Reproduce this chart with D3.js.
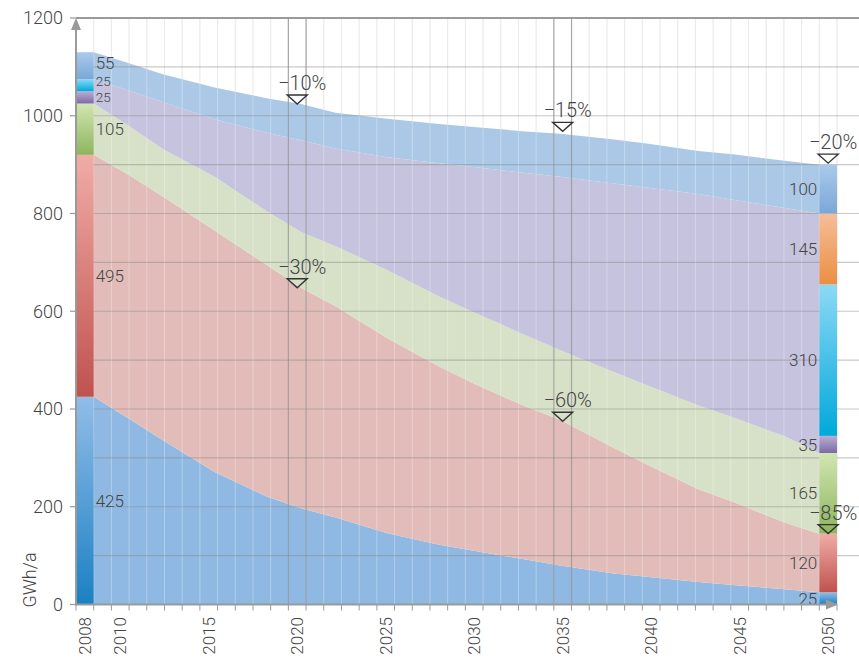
<!DOCTYPE html>
<html>
<head>
<meta charset="utf-8">
<script src="https://cdn.jsdelivr.net/npm/d3@7"></script>
<style>
  body { margin: 0; background: #fff; }
  text { font-family: Roboto, "Open Sans", sans-serif; font-weight: 300; fill: #444; }
</style>
</head>
<body>
<script>
// Jahre der Stützpunkte der Flächen
const years = [2008, 2010, 2012, 2015, 2018, 2020, 2022, 2025, 2028, 2030, 2033, 2035, 2038, 2040, 2043, 2045, 2048, 2050];
// Werte je Schicht (GWh/a), von unten nach oben
const basisBlau = [425, 381, 336, 271, 221, 197, 178, 146, 122, 110, 92, 80, 64, 57, 46, 40, 31, 25];
const rot       = [495, 499, 499, 494, 474, 451, 432, 399, 365, 342, 313, 298, 258, 230, 190, 170, 137, 120];
const gruen     = [105, 100, 97, 110, 110, 114, 123, 139, 143, 146, 146, 142, 155, 162, 171, 173, 176, 165];
const violett   = [50, 72, 96, 118, 160, 188, 200, 231, 273, 297, 332, 355, 385, 404, 433, 445, 467, 490];
const obenBlau  = [55, 56, 57, 65, 71, 74, 73, 79, 80, 82, 85, 88, 90, 90, 88, 93, 97, 100];

// Balken 2008 und 2050 (von unten nach oben)
const bar2008 = [425, 495, 105, 25, 25, 55];
const bar2008Farben = ["blau", "rot", "gruen", "violett", "cyan", "oben"];
const bar2050 = [25, 120, 165, 35, 310, 145, 100];
const bar2050Farben = ["blau", "rot", "gruen", "violett", "cyan", "orange", "oben"];

// Reduktionsmarken
const markerYears  = [2020, 2020, 2035, 2035, 2050, 2050];
const markerLabels = ["−10%", "−30%", "−15%", "−60%", "−20%", "−85%"];
const markerValues = [1024, 648, 968, 375, 903, 145];

const yTicks = [0, 200, 400, 600, 800, 1000, 1200];
const xLabelYears = [2008, 2010, 2015, 2020, 2025, 2030, 2035, 2040, 2045, 2050];

// Farben
const flaechenFarben = ["#8fb9e3", "#e2bcb9", "#d6e1c7", "#c6c3de", "#abc9e7"];
const verlauf = {
  blau:    ["#92bde8", "#1b80c3"],
  rot:     ["#f1aca6", "#c0524e"],
  gruen:   ["#d2e5b2", "#8cb55d"],
  violett: ["#b9aed6", "#7c6aa4"],
  cyan:    ["#8dd9f6", "#00a8db"],
  orange:  ["#f6be98", "#ec8e42"],
  oben:    ["#aacaea", "#7ba7d8"]
};

const W = 859, H = 661;
const plotL = 76, plotR = 837, plotT = 18, plotB = 604.5;

const svg = d3.select("body").append("svg").attr("width", W).attr("height", H);

const allYears = d3.range(2008, 2051);
const xb = d3.scaleBand().domain(allYears).range([plotL, plotR]).padding(0);
const bw = xb.bandwidth();
const xa = d3.scaleLinear().domain([2008, 2050]).range([xb(2008) + bw, xb(2050)]);
const y = d3.scaleLinear().domain([0, 1200]).range([plotB, plotT]);

// Gradienten
const defs = svg.append("defs");
Object.entries(verlauf).forEach(([k, c]) => {
  const g = defs.append("linearGradient").attr("id", "g-" + k)
    .attr("x1", 0).attr("y1", 0).attr("x2", 0).attr("y2", 1);
  g.append("stop").attr("offset", "0%").attr("stop-color", c[0]);
  g.append("stop").attr("offset", "100%").attr("stop-color", c[1]);
});

// Hintergrund-Raster (vertikal)
const boundaries = d3.range(0, allYears.length + 1).map(i => plotL + i * bw);
svg.append("g").selectAll("line").data(boundaries.slice(1)).join("line")
  .attr("x1", d => d).attr("x2", d => d).attr("y1", plotT).attr("y2", plotB)
  .attr("stroke", "#e2e2e2").attr("stroke-width", 1);

// Flächen
const rows = years.map((yr, i) => ({
  year: yr, basis: basisBlau[i], rot: rot[i], gruen: gruen[i], violett: violett[i], oben: obenBlau[i]
}));
const keys = ["basis", "rot", "gruen", "violett", "oben"];
const stacked = d3.stack().keys(keys)(rows);
const area = d3.area()
  .x(d => xa(d.data.year))
  .y0(d => y(d[0]))
  .y1(d => y(d[1]));
svg.append("g").selectAll("path").data(stacked).join("path")
  .attr("d", area)
  .attr("fill", (d, i) => flaechenFarben[i]);

// Raster über den Flächen
svg.append("g").selectAll("line").data(boundaries.slice(1, -1)).join("line")
  .attr("x1", d => d).attr("x2", d => d).attr("y1", plotT).attr("y2", plotB)
  .attr("stroke", "#fff").attr("stroke-opacity", 0.3).attr("stroke-width", 1);

svg.append("g").selectAll("line").data(d3.range(100, 1200, 100)).join("line")
  .attr("x1", plotL).attr("x2", W)
  .attr("y1", d => y(d)).attr("y2", d => y(d))
  .attr("stroke", "#888").attr("stroke-opacity", 0.45).attr("stroke-width", 1.2);

// dunkle Linien bei 2020 und 2035
[2020, 2035].forEach(yr => {
  [xb(yr), xb(yr) + bw].forEach(xx => {
    svg.append("line").attr("x1", xx).attr("x2", xx).attr("y1", plotT).attr("y2", plotB)
      .attr("stroke", "#8a8a8a").attr("stroke-opacity", 0.7).attr("stroke-width", 1.2);
  });
});

// Balken
function drawBar(year, values, colors, labelSide) {
  let cum = 0;
  const segs = values.map((v, i) => {
    const s = { v: v, y0: cum, y1: cum + v, c: colors[i] };
    cum += v;
    s.ly = y((s.y0 + s.y1) / 2);
    return s;
  });
  // kleine Schrift nur, wenn zwei schmale Segmente aufeinander folgen
  segs.forEach((s, i) => {
    const small = v => v !== undefined && v < 30;
    const tight = small(s.v) && (small(values[i - 1]) || small(values[i + 1]));
    s.fs = tight ? 13.5 : 17;
  });
  // Beschriftungen nach oben schieben, wenn sie sich berühren
  for (let i = 1; i < segs.length; i++) {
    const need = (segs[i].fs + segs[i - 1].fs) / 2 * 1.17 + 0.5;
    if (segs[i - 1].ly - segs[i].ly < need) segs[i].ly = segs[i - 1].ly - need;
  }
  const g = svg.append("g");
  g.selectAll("rect").data(segs).join("rect")
    .attr("x", xb(year)).attr("width", bw)
    .attr("y", d => y(d.y1)).attr("height", d => y(d.y0) - y(d.y1))
    .attr("fill", d => "url(#g-" + d.c + ")");
  g.selectAll("text").data(segs).join("text")
    .attr("x", labelSide === "right" ? xb(year) + bw + 2 : xb(year) - 2)
    .attr("y", d => d.ly)
    .attr("dy", "0.36em")
    .attr("text-anchor", labelSide === "right" ? "start" : "end")
    .style("font-size", d => d.fs + "px")
    .text(d => d.v);
}
drawBar(2008, bar2008, bar2008Farben, "right");
drawBar(2050, bar2050, bar2050Farben, "left");

// Achsen
svg.append("line").attr("x1", plotL).attr("x2", W).attr("y1", plotT).attr("y2", plotT)
  .attr("stroke", "#9a9a9a").attr("stroke-width", 2);
svg.append("line").attr("x1", plotL).attr("x2", plotL).attr("y1", plotT + 6).attr("y2", plotB + 1)
  .attr("stroke", "#9a9a9a").attr("stroke-width", 2);
svg.append("path").attr("d", `M${plotL - 5},${plotT + 12}L${plotL},${plotT}L${plotL + 5},${plotT + 12}Z`).attr("fill", "#9a9a9a");
svg.append("line").attr("x1", plotL).attr("x2", plotR).attr("y1", plotB).attr("y2", plotB)
  .attr("stroke", "#9a9a9a").attr("stroke-width", 2);
svg.append("path").attr("d", `M${plotR - 11},${plotB - 5}L${plotR + 1},${plotB}L${plotR - 11},${plotB + 5}Z`).attr("fill", "#9a9a9a");

// Ticks
svg.append("g").selectAll("line").data(boundaries).join("line")
  .attr("x1", d => d).attr("x2", d => d).attr("y1", plotB).attr("y2", plotB + 6)
  .attr("stroke", "#9a9a9a").attr("stroke-width", 1);
svg.append("g").selectAll("line").data(yTicks).join("line")
  .attr("x1", plotL - 6).attr("x2", plotL).attr("y1", d => y(d)).attr("y2", d => y(d))
  .attr("stroke", "#9a9a9a").attr("stroke-width", 1.2);

svg.append("g").selectAll("text").data(yTicks).join("text")
  .attr("x", 63).attr("y", d => y(d)).attr("dy", "0.36em")
  .attr("text-anchor", "end").style("font-size", "18px").text(d => d);

svg.append("g").selectAll("text").data(xLabelYears).join("text")
  .attr("transform", d => `translate(${xb(d) + bw / 2},617) rotate(-90)`)
  .attr("dy", "0.36em").attr("text-anchor", "end")
  .style("font-size", "17px").text(d => d);

svg.append("text")
  .attr("transform", "translate(30,580) rotate(-90)")
  .attr("dy", "0.36em").attr("text-anchor", "middle")
  .style("font-size", "18px").text("GWh/a");

// Marken
const mg = svg.append("g");
markerYears.forEach((yr, i) => {
  const cx = xb(yr) + bw / 2;
  const ty = y(markerValues[i]);
  mg.append("path")
    .attr("d", `M${cx - 10},${ty - 9}L${cx + 10},${ty - 9}L${cx},${ty}Z`)
    .attr("fill", "none").attr("stroke", "#333").attr("stroke-width", 1.4)
    .attr("stroke-linejoin", "miter");
  mg.append("text")
    .attr("x", cx + 5).attr("y", ty - 14)
    .attr("text-anchor", "middle").style("font-size", "20px")
    .text(markerLabels[i]);
});
</script>
</body>
</html>
